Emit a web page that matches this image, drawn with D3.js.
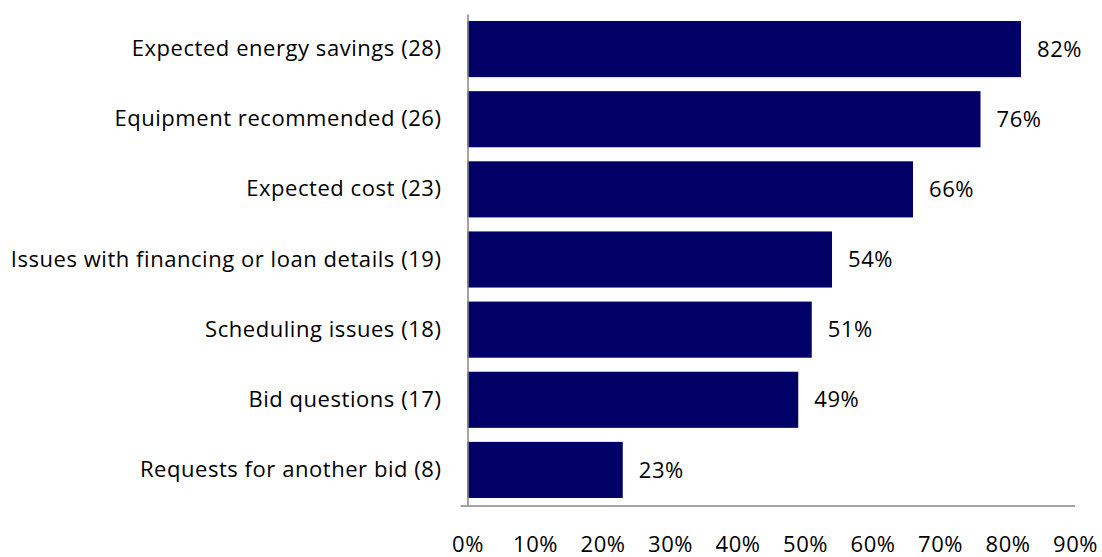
<!DOCTYPE html>
<html>
<head>
<meta charset="utf-8">
<script src="https://cdn.jsdelivr.net/npm/d3@7"></script>
<style>
  html, body { margin: 0; padding: 0; background: #fff; }
  svg { display: block; font-family: "Open Sans", Lato, sans-serif; }
</style>
</head>
<body>
<svg id="chart" width="1102" height="557"></svg>
<script>
// Reasons cited, with respondent counts, and share of respondents (%)
const categories = [
  "Expected energy savings (28)",
  "Equipment recommended (26)",
  "Expected cost (23)",
  "Issues with financing or loan details (19)",
  "Scheduling issues (18)",
  "Bid questions (17)",
  "Requests for another bid (8)"
];
const values = [82, 76, 66, 54, 51, 49, 23];
const tickValues = [0, 10, 20, 30, 40, 50, 60, 70, 80, 90];

const svg = d3.select("#chart");
const margin = { left: 467.5, right: 27, top: 14, bottom: 52 };
const W = 1102, H = 557;
const fontFamily = "'Open Sans', Lato, sans-serif";
const fontSize = 22;
const spacing = "0.55px";

const x = d3.scaleLinear()
  .domain([0, 90])
  .range([margin.left, W - margin.right]);

const y = d3.scaleBand()
  .domain(categories)
  .range([margin.top, H - margin.bottom])
  .paddingInner(0.2)
  .paddingOuter(0.1);

// bars
svg.append("g")
  .selectAll("rect")
  .data(values)
  .join("rect")
  .attr("x", x(0))
  .attr("y", (d, i) => y(categories[i]))
  .attr("width", d => x(d) - x(0))
  .attr("height", y.bandwidth())
  .attr("fill", "#000066");

// value labels
svg.append("g")
  .selectAll("text")
  .data(values)
  .join("text")
  .attr("x", d => x(d) + 16)
  .attr("y", (d, i) => y(categories[i]) + y.bandwidth() / 2)
  .attr("dy", "0.35em")
  .attr("font-size", fontSize)
  .attr("font-family", fontFamily)
  .attr("letter-spacing", spacing)
  .attr("fill", "#000")
  .text(d => d + "%");

// category axis
const yAxis = svg.append("g")
  .attr("transform", `translate(${x(0)},0)`)
  .call(d3.axisLeft(y).tickSize(0).tickPadding(26));
yAxis.select(".domain").attr("stroke", "#868686").attr("stroke-width", 1.5);
yAxis.selectAll("text")
  .attr("font-size", fontSize)
  .attr("font-family", fontFamily)
  .attr("letter-spacing", spacing)
  .attr("fill", "#000");

// value axis line
const yBottom = H - margin.bottom + 1;
svg.append("line")
  .attr("x1", x(0) - 7)
  .attr("x2", x(90))
  .attr("y1", yBottom)
  .attr("y2", yBottom)
  .attr("stroke", "#868686")
  .attr("stroke-width", 1.5);

// value axis tick labels, placed well below the line
const xAxis = svg.append("g")
  .attr("transform", `translate(0,${yBottom})`)
  .call(d3.axisBottom(x).tickValues(tickValues).tickFormat(d => d + "%").tickSize(0).tickPadding(30));
xAxis.select(".domain").remove();
xAxis.selectAll("text")
  .attr("font-size", fontSize)
  .attr("font-family", fontFamily)
  .attr("letter-spacing", spacing)
  .attr("fill", "#000");
</script>
</body>
</html>
